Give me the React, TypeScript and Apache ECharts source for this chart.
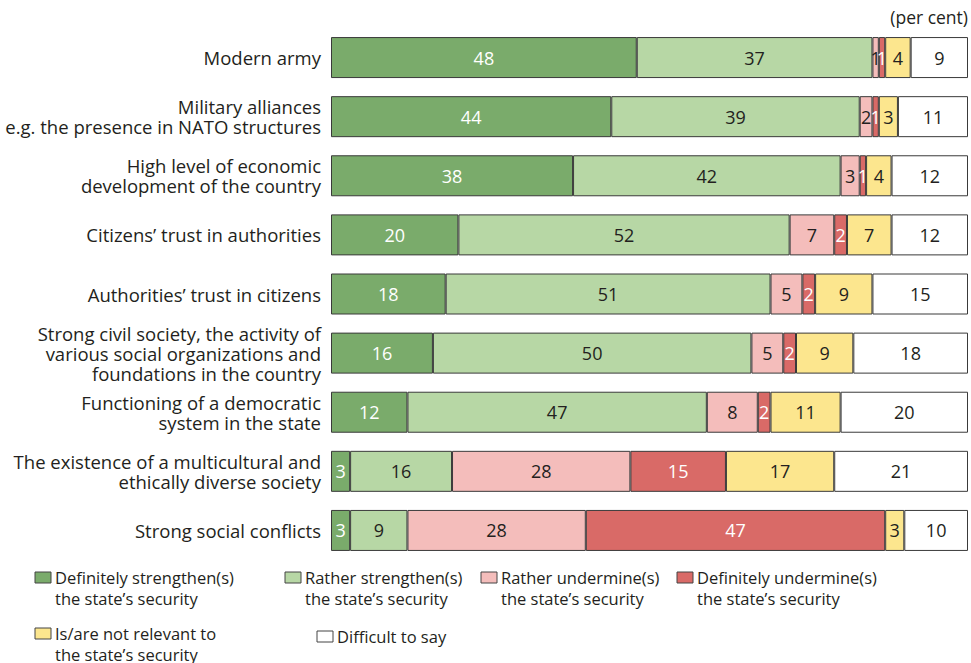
import React, { useEffect, useRef } from "react";
import * as echarts from "echarts";

const categories = [
  "Modern army",
  "Military alliances\ne.g. the presence in NATO structures",
  "High level of economic\ndevelopment of the country",
  "Citizens’ trust in authorities",
  "Authorities’ trust in citizens",
  "Strong civil society, the activity of\nvarious social organizations and\nfoundations in the country",
  "Functioning of a democratic\nsystem in the state",
  "The existence of a multicultural and\nethically diverse society",
  "Strong social conflicts",
];

const seriesNames = [
  "Definitely strengthen(s)\nthe state’s security",
  "Rather strengthen(s)\nthe state’s security",
  "Rather undermine(s)\nthe state’s security",
  "Definitely undermine(s)\nthe state’s security",
  "Is/are not relevant to\nthe state’s security",
  "Difficult to say",
];

const definitelyStrengthen = [48, 44, 38, 20, 18, 16, 12, 3, 3];
const ratherStrengthen = [37, 39, 42, 52, 51, 50, 47, 16, 9];
const ratherUndermine = [1, 2, 3, 7, 5, 5, 8, 28, 28];
const definitelyUndermine = [1, 1, 1, 2, 2, 2, 2, 15, 47];
const notRelevant = [4, 3, 4, 7, 9, 9, 11, 17, 3];
const difficult = [9, 11, 12, 12, 15, 18, 20, 21, 10];

const seriesValues = [
  definitelyStrengthen,
  ratherStrengthen,
  ratherUndermine,
  definitelyUndermine,
  notRelevant,
  difficult,
];

const colors = ["#7aab6b", "#b7d7a5", "#f4bdbb", "#d96a67", "#fce68e", "#ffffff"];
const labelColors = ["#ffffff", "#231f20", "#231f20", "#ffffff", "#231f20", "#231f20"];

const FONT = "'Open Sans', 'Noto Sans', sans-serif";

export default function App() {
  const ref = useRef<HTMLDivElement>(null);
  useEffect(() => {
    if (!ref.current) return;
    const chart = echarts.init(ref.current, undefined, { renderer: "svg" });

    const legendPos = [
      { x: 35, y: 578 },
      { x: 285, y: 578 },
      { x: 481, y: 578 },
      { x: 677, y: 578 },
      { x: 35, y: 634 },
      { x: 317, y: 637 },
    ];
    const graphics: any[] = [];
    legendPos.forEach((p, i) => {
      graphics.push({
        type: "rect",
        shape: { x: p.x, y: p.y - 6, width: 16, height: 11 },
        style: { fill: colors[i], stroke: "#444", lineWidth: 1 },
      });
      graphics.push({
        type: "text",
        x: p.x + 20,
        y: p.y - 11,
        style: {
          text: seriesNames[i],
          fontSize: 16.5,
          fontFamily: FONT,
          fill: "#231f20",
          lineHeight: 21,
          verticalAlign: "top",
        },
      });
    });
    graphics.push({
      type: "text",
      right: 3,
      top: 8,
      style: { text: "(per cent)", fontSize: 17.5, fontFamily: FONT, fill: "#231f20" },
    });

    chart.setOption({
      animation: false,
      textStyle: { fontFamily: FONT },
      grid: { left: 331, right: 3, top: 28, height: 532, outerBoundsMode: "none", containLabel: false },
      xAxis: { type: "value", min: 0, max: 100, show: false },
      yAxis: {
        type: "category",
        data: categories,
        inverse: true,
        axisLine: { show: false },
        axisTick: { show: false },
        axisLabel: {
          fontSize: 18.5,
          color: "#231f20",
          lineHeight: 20,
          margin: 10,
          align: "right",
          fontFamily: FONT,
        },
      },
      series: seriesValues.map((vals, i) => ({
        name: seriesNames[i],
        type: "bar",
        stack: "total",
        barWidth: 41,
        data: vals,
        itemStyle: { color: colors[i], borderColor: "#3a3a3a", borderWidth: 1 },
        label: {
          show: true,
          position: "inside",
          color: labelColors[i],
          fontSize: 18,
          fontFamily: FONT,
        },
      })),
      graphic: graphics,
    });
    return () => chart.dispose();
  }, []);
  return (
    <div
      ref={ref}
      style={{ position: "fixed", left: 0, top: 0, width: 971, height: 663, background: "#fff" }}
    />
  );
}
